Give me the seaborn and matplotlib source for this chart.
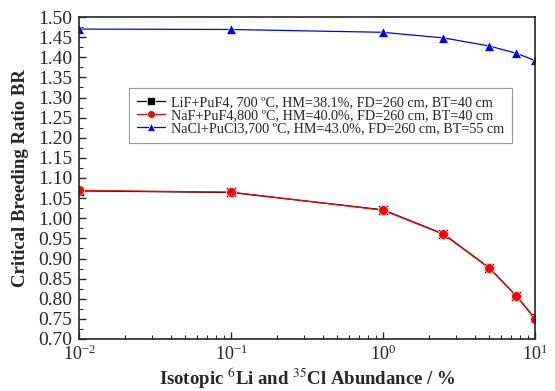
import matplotlib
matplotlib.use("Agg")
import matplotlib.pyplot as plt
import seaborn as sns
import pandas as pd
import numpy as np
from matplotlib.ticker import LogLocator, MultipleLocator, FormatStrFormatter

abundance = [0.01, 0.1, 1.0, 2.5, 5.0, 7.5, 10.0]
lif_br = [1.068, 1.064, 1.021, 0.961, 0.877, 0.808, 0.751]
naf_br = [1.069, 1.065, 1.020, 0.960, 0.876, 0.808, 0.750]
nacl_br = [1.470, 1.469, 1.462, 1.448, 1.428, 1.410, 1.392]

labels = [
    "LiF+PuF4, 700 \u00baC, HM=38.1%, FD=260 cm, BT=40 cm",
    "NaF+PuF4,800 \u00baC, HM=40.0%, FD=260 cm, BT=40 cm",
    "NaCl+PuCl3,700 \u00baC, HM=43.0%, FD=260 cm, BT=55 cm",
]

sns.set_style("ticks")
plt.rcParams['font.family'] = ['Liberation Serif', 'DejaVu Serif']
plt.rcParams['mathtext.fontset'] = 'stix'

df = pd.concat([
    pd.DataFrame({"x": abundance, "y": lif_br, "s": labels[0]}),
    pd.DataFrame({"x": abundance, "y": naf_br, "s": labels[1]}),
    pd.DataFrame({"x": abundance, "y": nacl_br, "s": labels[2]}),
])

fig = plt.figure(figsize=(5.55, 3.91), dpi=100)
ax = fig.add_axes([79/555, 1-339/391, (535-79)/555, (339-17)/391])

palette = {labels[0]: "black", labels[1]: "red", labels[2]: "blue"}
markers = {labels[0]: "s", labels[1]: "o", labels[2]: "^"}
sns.lineplot(data=df, x="x", y="y", hue="s", style="s", palette=palette,
             markers=markers, dashes=False, markersize=7, linewidth=0.9,
             markeredgewidth=0.5, ax=ax, legend=True)

ax.set_xscale("log")
ax.set_xlim(0.01, 10)
ax.set_ylim(0.70, 1.50)
ax.yaxis.set_major_locator(MultipleLocator(0.05))
ax.yaxis.set_minor_locator(MultipleLocator(0.025))
ax.yaxis.set_major_formatter(FormatStrFormatter("%.2f"))
ax.xaxis.set_major_locator(LogLocator(base=10, numticks=10))
ax.xaxis.set_minor_locator(LogLocator(base=10, subs=np.arange(2, 10), numticks=10))
ax.tick_params(which="both", direction="in", top=False, right=False)
ax.tick_params(axis="y", labelsize=14, pad=5)
ax.tick_params(axis="x", labelsize=13, pad=4)
ax.tick_params(which="major", length=5, width=1)
ax.tick_params(which="minor", length=3, width=0.8)
for sp in ax.spines.values():
    sp.set_linewidth(1.2)
    sp.set_visible(True)

ax.set_xlabel("Isotopic $^{6}$Li and $^{35}$Cl Abundance / %", fontsize=13.5,
              fontweight="bold", labelpad=1)
ax.set_ylabel("Critical Breeding Ratio BR", fontsize=13.5, fontweight="bold", labelpad=6)

leg = ax.legend(loc="upper left", bbox_to_anchor=((129-79)/456, 1-(88-17)/322),
                fontsize=10.2, frameon=True, fancybox=False, edgecolor="gray",
                handlelength=2.0, borderpad=0.55, labelspacing=0.0,
                handletextpad=0.4, markerscale=0.8, borderaxespad=0)
leg.get_frame().set_linewidth(0.8)

fig.savefig("out.png", dpi=100)
